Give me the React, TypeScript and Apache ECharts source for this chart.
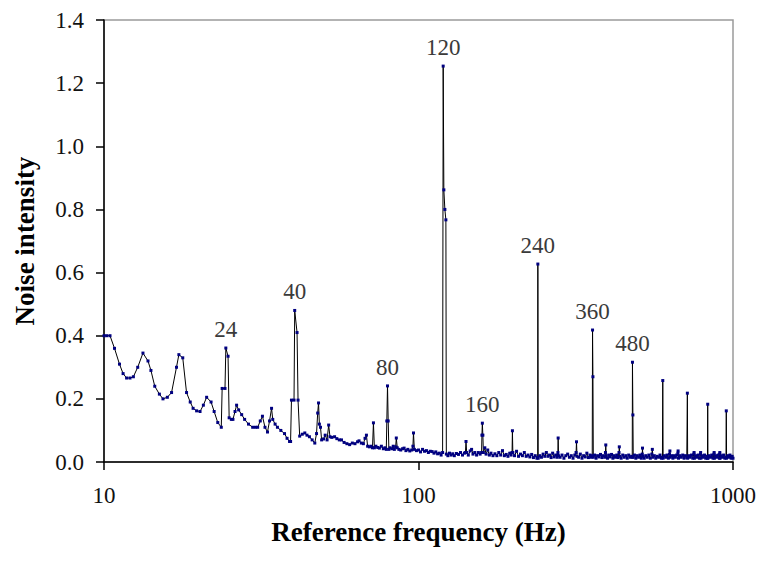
import { useEffect, useRef } from "react";
import * as echarts from "echarts";

// Spectrum, low frequency part (Hz, intensity)
const lowBand: [number, number][] = [
  [10, 0.4], [10.2, 0.4], [10.45, 0.4], [10.8, 0.36], [11.2, 0.31], [11.5, 0.28], [11.8, 0.266],
  [12.1, 0.266], [12.4, 0.27], [12.8, 0.3], [13.3, 0.345], [13.8, 0.32], [14.1, 0.29], [14.5, 0.24],
  [15.0, 0.215], [15.4, 0.2], [15.9, 0.205], [16.4, 0.22], [17.0, 0.3], [17.3, 0.34], [17.8, 0.33],
  [18.3, 0.22], [18.8, 0.19], [19.2, 0.17], [19.7, 0.162], [20.2, 0.16], [20.7, 0.18], [21.2, 0.205],
  [21.9, 0.19], [22.4, 0.16], [23.0, 0.125], [23.6, 0.11], [23.75, 0.233], [24.25, 0.233], [24.4, 0.361],
  [24.8, 0.335], [25.0, 0.14], [25.4, 0.135], [25.7, 0.135], [26.1, 0.16], [26.4, 0.18], [26.8, 0.165],
  [27.4, 0.15], [28.0, 0.135], [28.8, 0.12], [29.7, 0.11], [30.3, 0.11], [30.8, 0.11], [31.4, 0.13],
  [31.9, 0.145], [32.5, 0.11], [33.1, 0.095], [33.6, 0.13], [34.1, 0.17], [34.4, 0.135], [35.0, 0.12],
  [35.6, 0.11], [36.5, 0.1], [37.5, 0.09], [38.2, 0.075], [38.9, 0.065], [39.2, 0.065], [39.45, 0.196],
  [40.2, 0.196], [40.4, 0.48], [41.1, 0.41], [41.4, 0.196], [41.9, 0.082],
];

const midBand: [number, number][] = [
  [42.7, 0.088], [43.5, 0.092], [44.2, 0.085], [45.0, 0.08], [45.9, 0.07], [46.8, 0.06], [47.4, 0.09],
  [47.8, 0.155], [48.1, 0.187], [48.4, 0.12], [48.8, 0.11], [49.2, 0.07], [49.9, 0.073], [50.5, 0.085],
  [51.2, 0.07], [51.8, 0.117], [52.3, 0.08], [53.0, 0.078], [54.1, 0.08], [55.0, 0.074], [56.0, 0.07],
  [56.9, 0.07], [58.0, 0.062], [59.2, 0.058], [60.4, 0.055], [61.6, 0.06], [62.8, 0.058], [64.0, 0.064],
  [64.7, 0.067], [65.8, 0.06], [66.8, 0.058], [67.6, 0.075], [68.3, 0.085], [68.9, 0.05], [69.8, 0.048],
  [70.6, 0.05], [71.4, 0.045], [71.9, 0.124], [72.4, 0.045], [73.2, 0.05], [74.2, 0.046], [75.1, 0.044],
  [76.2, 0.05], [77.3, 0.042], [78.2, 0.045], [79.0, 0.04], [79.3, 0.13], [79.7, 0.241], [80.1, 0.13],
  [80.5, 0.04], [81.2, 0.045], [82.3, 0.042], [83.1, 0.05], [83.8, 0.04], [84.6, 0.048], [85.0, 0.076],
  [85.6, 0.045], [86.6, 0.04], [87.8, 0.038], [89.0, 0.042], [90.0, 0.044], [91.2, 0.036], [92.5, 0.04],
  [93.8, 0.035], [95.2, 0.038], [96.0, 0.05], [96.4, 0.092], [97.0, 0.04], [98.5, 0.036], [100, 0.038],
  [101.5, 0.032], [103, 0.04], [104.5, 0.034], [106, 0.036], [107.5, 0.03], [109, 0.034], [110.5, 0.033],
  [112, 0.028], [113.5, 0.032], [115, 0.026], [116.5, 0.028], [118, 0.022], [119.3, 0.03],
  [119.8, 1.254], [120.4, 0.862], [121.3, 0.8], [122.2, 0.767], [122.6, 0.025],
];

const highBand: [number, number][] = [
  [124, 0.02], [125.5, 0.028], [127, 0.022], [128.5, 0.026], [130, 0.02], [132, 0.027], [134, 0.024],
  [136, 0.03], [138, 0.022], [140, 0.028], [141, 0.03], [141.6, 0.065], [142.3, 0.03], [144, 0.022],
  [146, 0.035], [147.5, 0.04], [149, 0.025], [151, 0.03], [153, 0.022], [155, 0.03], [157, 0.025],
  [158.7, 0.03], [159.1, 0.085], [159.6, 0.123], [160.2, 0.085], [160.8, 0.03], [162.5, 0.045],
  [164, 0.025], [166, 0.038], [168, 0.022], [170, 0.028], [172.5, 0.02], [175, 0.026], [177.5, 0.02],
  [180, 0.03], [182.5, 0.022], [185, 0.036], [187.5, 0.02], [190, 0.024], [192.5, 0.018], [195, 0.028],
  [197, 0.022], [198.4, 0.03], [198.9, 0.099], [199.5, 0.03], [202, 0.02], [205, 0.034], [208, 0.018],
  [211, 0.025], [214, 0.02], [217, 0.03], [220, 0.018], [223, 0.022], [226, 0.016], [229, 0.024],
  [232, 0.014], [235, 0.02], [238, 0.012], [239.3, 0.015], [239.6, 0.627], [240.2, 0.012], [243, 0.02],
  [246, 0.015], [249, 0.025], [252, 0.018], [255, 0.03], [258, 0.018], [261, 0.022], [264, 0.014],
  [267, 0.028], [270, 0.016], [273, 0.022], [276, 0.015], [277.5, 0.03], [278, 0.076], [278.8, 0.02],
  [282, 0.015], [286, 0.022], [290, 0.012], [294, 0.02], [298, 0.025], [302, 0.015], [306, 0.02],
  [310, 0.012], [314, 0.022], [317, 0.03], [318, 0.064], [319.2, 0.018], [323, 0.015], [327, 0.025],
  [331, 0.012], [335, 0.02], [339, 0.016], [343, 0.028], [347, 0.014], [351, 0.022], [354, 0.015],
  [356.8, 0.02], [357.6, 0.418], [358.6, 0.27], [359.6, 0.015], [363, 0.022], [367, 0.012], [371, 0.02],
  [375, 0.016], [379, 0.024], [383, 0.014], [387, 0.02], [391, 0.015], [393, 0.03], [394, 0.054],
  [395.2, 0.02], [399, 0.012], [403, 0.022], [407, 0.016], [411, 0.024], [415, 0.012], [419, 0.02],
  [423, 0.015], [427, 0.022], [431, 0.014], [434, 0.03], [435, 0.048], [436.5, 0.018], [441, 0.012],
  [446, 0.022], [451, 0.015], [456, 0.02], [461, 0.012], [466, 0.022], [471, 0.015], [476, 0.018],
  [478.2, 0.015], [479, 0.316], [480.5, 0.149], [481.8, 0.015], [486, 0.022], [491, 0.012], [496, 0.02],
  [501, 0.015], [506, 0.022], [511, 0.012], [514.5, 0.025], [515.5, 0.044], [517, 0.018], [522, 0.012],
  [528, 0.02], [534, 0.015], [540, 0.022], [546, 0.012], [552, 0.025], [554, 0.04], [556, 0.015],
  [562, 0.02], [568, 0.012], [574, 0.018], [580, 0.015], [586, 0.022], [592, 0.012], [596.5, 0.015],
  [598, 0.258], [599.5, 0.012], [605, 0.02], [611, 0.015], [617, 0.022], [623, 0.012], [628, 0.025],
  [630, 0.035], [632, 0.015], [638, 0.02], [644, 0.012], [650, 0.02], [656, 0.015], [662, 0.022],
  [668, 0.028], [669, 0.035], [671, 0.012], [678, 0.02], [685, 0.015], [692, 0.022], [699, 0.012],
  [706, 0.02], [713, 0.015], [715, 0.014], [716, 0.218], [717.5, 0.012], [724, 0.02], [731, 0.015],
  [738, 0.022], [745, 0.012], [751, 0.025], [752, 0.03], [754, 0.012], [761, 0.02], [768, 0.015],
  [775, 0.022], [782, 0.012], [788, 0.025], [789, 0.03], [791, 0.012], [798, 0.02], [805, 0.015],
  [812, 0.022], [819, 0.012], [826, 0.018], [829.5, 0.012], [831, 0.183], [832.5, 0.012], [840, 0.02],
  [848, 0.015], [856, 0.022], [864, 0.012], [870, 0.025], [871, 0.03], [873, 0.012], [881, 0.02],
  [889, 0.015], [897, 0.022], [905, 0.012], [907, 0.025], [908, 0.03], [910, 0.012], [918, 0.02],
  [926, 0.015], [934, 0.022], [942, 0.012], [950, 0.015], [952, 0.162], [954, 0.012], [962, 0.02],
  [970, 0.015], [978, 0.022], [986, 0.012], [994, 0.018], [1000, 0.012],
];

// Peak annotations
const peakFreq = [24.4, 40.4, 79.7, 119.8, 159.6, 239.6, 357.6, 479];
const peakValue = [0.361, 0.48, 0.241, 1.254, 0.123, 0.627, 0.418, 0.316];
const peakText = ["24", "40", "80", "120", "160", "240", "360", "480"];

const SERIF = "Liberation Serif";

export default function App() {
  const ref = useRef<HTMLDivElement>(null);

  useEffect(() => {
    if (!ref.current) return;
    const chart = echarts.init(ref.current, null, { renderer: "svg" });
    const spectrum = [...lowBand, ...midBand, ...highBand];
    const peaks = peakFreq.map((f, i) => [f, peakValue[i], i]);
    chart.setOption({
      animation: false,
      backgroundColor: "#ffffff",
      grid: {
        left: 104,
        right: 28,
        top: 20,
        bottom: 105,
        show: true,
        borderColor: "#9a9a9a",
        borderWidth: 1.5,
      },
      xAxis: {
        type: "log",
        logBase: 10,
        min: 10,
        max: 1000,
        name: "Reference frequency (Hz)",
        nameLocation: "middle",
        nameGap: 56,
        nameTextStyle: { fontFamily: SERIF, fontSize: 27, fontWeight: "bold", color: "#000" },
        axisLine: { show: true, onZero: false, lineStyle: { color: "#000", width: 1.5 } },
        axisTick: { show: true, length: 8, lineStyle: { color: "#000", width: 1.5 } },
        minorTick: { show: false },
        splitLine: { show: false },
        axisLabel: {
          fontFamily: SERIF,
          fontSize: 23,
          color: "#111",
          margin: 22,
          formatter: (v: number) => String(Math.round(v)),
        },
      },
      yAxis: {
        type: "value",
        min: 0,
        max: 1.4,
        interval: 0.2,
        name: "Noise intensity",
        nameLocation: "middle",
        nameGap: 66,
        nameTextStyle: { fontFamily: SERIF, fontSize: 27, fontWeight: "bold", color: "#000" },
        axisLine: { show: true, lineStyle: { color: "#000", width: 1.5 } },
        axisTick: { show: true, length: 8, lineStyle: { color: "#000", width: 1.5 } },
        splitLine: { show: false },
        axisLabel: {
          fontFamily: SERIF,
          fontSize: 23,
          color: "#111",
          margin: 20,
          formatter: (v: number) => v.toFixed(1),
        },
      },
      series: [
        {
          type: "line",
          data: spectrum,
          showSymbol: true,
          showAllSymbol: true,
          symbol: "rect",
          symbolSize: 3,
          itemStyle: { color: "#000080" },
          lineStyle: { color: "#000000", width: 1 },
          silent: true,
          z: 2,
        },
        {
          type: "custom",
          data: peaks,
          silent: true,
          z: 3,
          encode: { x: 0, y: 1 },
          renderItem: (params: any, api: any) => {
            const pt = api.coord([api.value(0), api.value(1)]);
            const idx = api.value(2) as number;
            return {
              type: "text",
              x: pt[0],
              y: pt[1] - 7,
              style: {
                text: peakText[idx],
                fontFamily: SERIF,
                fontSize: 23,
                fill: "#3a3a3a",
                align: "center",
                verticalAlign: "bottom",
              },
            };
          },
        },
      ],
    });
    return () => chart.dispose();
  }, []);

  return (
    <div
      ref={ref}
      style={{ position: "fixed", left: 0, top: 0, width: 761, height: 567, background: "#fff" }}
    />
  );
}
